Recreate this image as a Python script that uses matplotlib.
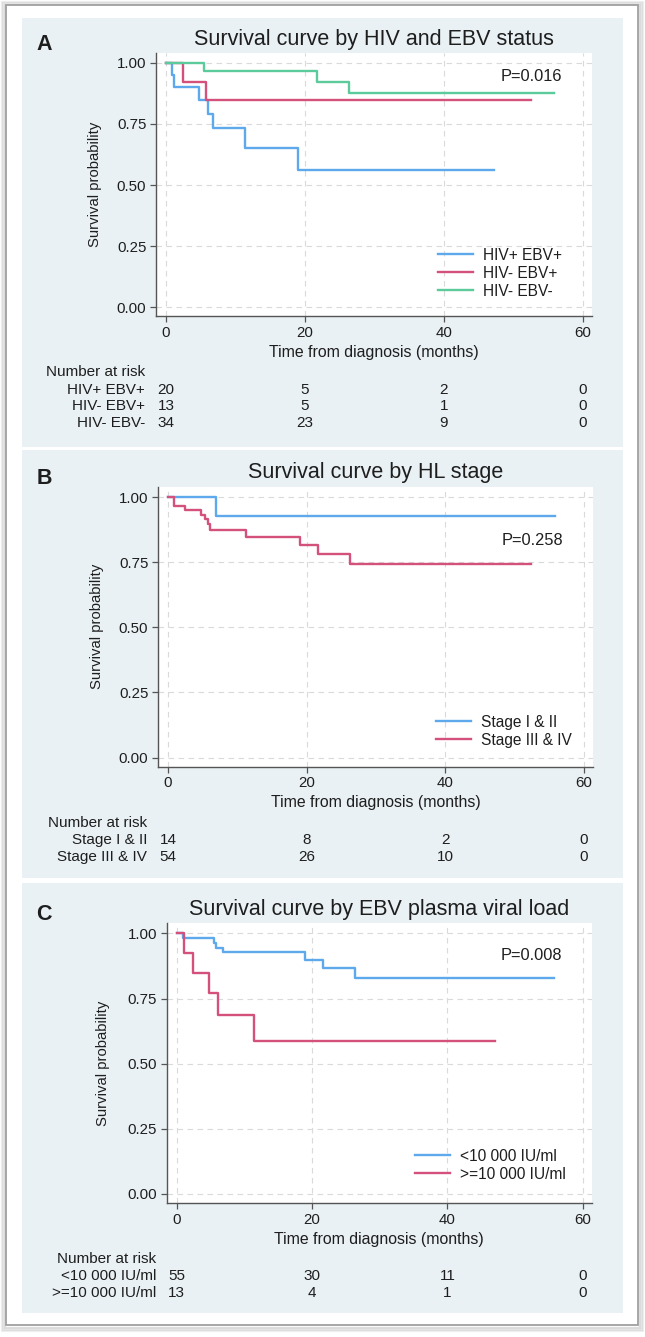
import numpy as np
import matplotlib.pyplot as plt
from matplotlib.patches import Rectangle
from matplotlib import transforms

plt.rcParams['font.family'] = ['Liberation Sans', 'DejaVu Sans']

W, H = 645, 1337

# panel A - HIV and EBV status
a_t_hivpos = [0, 0.9, 1.1, 4.8, 6.0, 6.8, 11.3, 19.0, 47.2]
a_s_hivpos = [1.0, 0.95, 0.90, 0.846, 0.79, 0.735, 0.653, 0.56, 0.56]
a_t_ebvpos = [0, 2.4, 5.8, 52.5]
a_s_ebvpos = [1.0, 0.923, 0.846, 0.846]
a_t_ebvneg = [0, 5.5, 21.8, 26.3, 55.9]
a_s_ebvneg = [1.0, 0.967, 0.922, 0.875, 0.875]
a_labels = ['HIV+ EBV+', 'HIV- EBV+', 'HIV- EBV-']
a_risk = [[20, 5, 2, 0], [13, 5, 1, 0], [34, 23, 9, 0]]

# panel B - HL stage
b_t_early = [0, 6.9, 55.8]
b_s_early = [1.0, 0.926, 0.926]
b_t_late = [0, 0.87, 2.4, 4.7, 5.4, 5.7, 6.0, 11.3, 19.1, 21.7, 26.3, 52.4]
b_s_late = [1.0, 0.966, 0.949, 0.930, 0.915, 0.898, 0.873, 0.846, 0.818, 0.782, 0.744, 0.744]
b_labels = ['Stage I & II', 'Stage III & IV']
b_risk = [[14, 8, 2, 0], [54, 26, 10, 0]]

# panel C - EBV plasma viral load
c_t_low = [0, 0.97, 5.5, 5.8, 6.8, 19.0, 21.7, 26.3, 55.7]
c_s_low = [1.0, 0.983, 0.964, 0.945, 0.927, 0.898, 0.866, 0.830, 0.830]
c_t_high = [0, 1.1, 2.45, 4.8, 6.1, 11.4, 47.1]
c_s_high = [1.0, 0.925, 0.849, 0.772, 0.686, 0.587, 0.587]
c_labels = ['<10 000 IU/ml', '>=10 000 IU/ml']
c_risk = [[55, 30, 11, 0], [13, 4, 1, 0]]

risk_times = [0, 20, 40, 60]
blue, red, green = '#5ea8ec', '#d4517c', '#5ccb9c'
bg = '#e9f1f4'
txt = '#1e1e1e'
axcol = '#555555'

fig = plt.figure(figsize=(W / 100, H / 100), dpi=100)


def fig_rect(x0, y0, x1, y1, **kw):
    # rectangle given in pixel coords (origin top-left), drawn behind the axes
    r = Rectangle((x0 / W, 1 - y1 / H), (x1 - x0) / W, (y1 - y0) / H,
                  transform=fig.transFigure, zorder=-10, **kw)
    fig.patches.append(r)


# outer frame with a soft shadow
for i, a in enumerate([0.10, 0.16, 0.25]):
    d = 4 - i * 1.3
    fig_rect(6 - d, 5 - d + 1, 638 + d + 1, 1325 + d + 2, facecolor='none',
             edgecolor='#7a7a7a', lw=1.6, alpha=a)
fig_rect(6, 5, 638, 1325, facecolor='white', edgecolor='#a0a0a0', lw=1.3)
for top, bot in [(18, 447), (449.5, 878), (883, 1312.7)]:
    fig_rect(21.5, top, 623.3, bot, facecolor=bg, edgecolor='none')


def panel(box, letter, title, curves, labels, colors, risk, pval, p_y, leg_anchor, ylab_off):
    left, top, right, bottom = box
    ax = fig.add_axes([left / W, 1 - bottom / H, (right - left) / W, (bottom - top) / H])
    ax.set_facecolor('white')
    h_px = bottom - top
    w_px = right - left
    for (t, s), lab, col in zip(curves, labels, colors):
        ax.step(t, s, where='post', color=col, lw=1.7, label=lab, zorder=3)
    ax.set_xlim(-1.45, 61.35)
    ax.set_ylim(-0.035, 1.04)
    ax.set_xticks(risk_times)
    ax.set_yticks([0, 0.25, 0.5, 0.75, 1.0])
    ax.set_yticklabels(['%.2f' % v for v in [0, 0.25, 0.5, 0.75, 1.0]])
    ax.grid(True, color='#dadada', lw=0.8, ls=(0, (5, 4)), zorder=0)
    for sp in ['top', 'right']:
        ax.spines[sp].set_visible(False)
    for sp in ['left', 'bottom']:
        ax.spines[sp].set_color(axcol)
        ax.spines[sp].set_linewidth(1.0)
    ax.tick_params(length=4.5, width=0.9, color=axcol, labelsize=10.8, labelcolor=txt, pad=2.5)
    ax.set_xlabel('Time from diagnosis (months)', fontsize=11.4, color=txt, labelpad=3.5)
    ax.set_ylabel('Survival probability', fontsize=10.7, color=txt, va='center')
    ax.yaxis.set_label_coords(-ylab_off / w_px, 0.5)
    ax.text(0.5, 1 + 14 / h_px, title, transform=ax.transAxes, ha='center', va='center',
            fontsize=15.5, color=txt)
    ax.text(57, p_y, pval, ha='right', va='center', fontsize=11.8, color=txt)
    ax.legend(loc='lower right', bbox_to_anchor=leg_anchor, frameon=False, fontsize=11.2,
              handlelength=2.25, handletextpad=0.65, labelspacing=0.2, borderpad=0,
              borderaxespad=0, labelcolor=txt)
    fig.text(44 / W, 1 - (top - 8) / H, letter, ha='center', va='center', fontsize=15.5,
             fontweight='bold', color=txt)
    # number at risk table
    tr = transforms.blended_transform_factory(ax.transData, ax.transAxes)
    ax.text(-3, -56 / h_px, 'Number at risk', transform=tr, ha='right', va='center',
            fontsize=11, color=txt, clip_on=False)
    for k, (lab, row) in enumerate(zip(labels, risk)):
        y = -(73.5 + 16.7 * k) / h_px
        ax.text(-3, y, lab, transform=tr, ha='right', va='center', fontsize=11, color=txt)
        for t, n in zip(risk_times, row):
            ax.text(t, y, str(n), transform=tr, ha='center', va='center', fontsize=11, color=txt)
    return ax


panel((156, 53, 592, 316), 'A', 'Survival curve by HIV and EBV status',
      [(a_t_hivpos, a_s_hivpos), (a_t_ebvpos, a_s_ebvpos), (a_t_ebvneg, a_s_ebvneg)],
      a_labels, [blue, red, green], a_risk, 'P=0.016', 0.945, (0.931, 0.065), 61)

panel((158, 486.7, 593, 766.7), 'B', 'Survival curve by HL stage',
      [(b_t_early, b_s_early), (b_t_late, b_s_late)],
      b_labels, [blue, red], b_risk, 'P=0.258', 0.834, (0.951, 0.0675), 61)

panel((166.7, 923, 592, 1203), 'C', 'Survival curve by EBV plasma viral load',
      [(c_t_low, c_s_low), (c_t_high, c_s_high)],
      c_labels, [blue, red], c_risk, 'P=0.008', 0.917, (0.939, 0.0757), 63.7)

fig.savefig('out.png', dpi=100)
